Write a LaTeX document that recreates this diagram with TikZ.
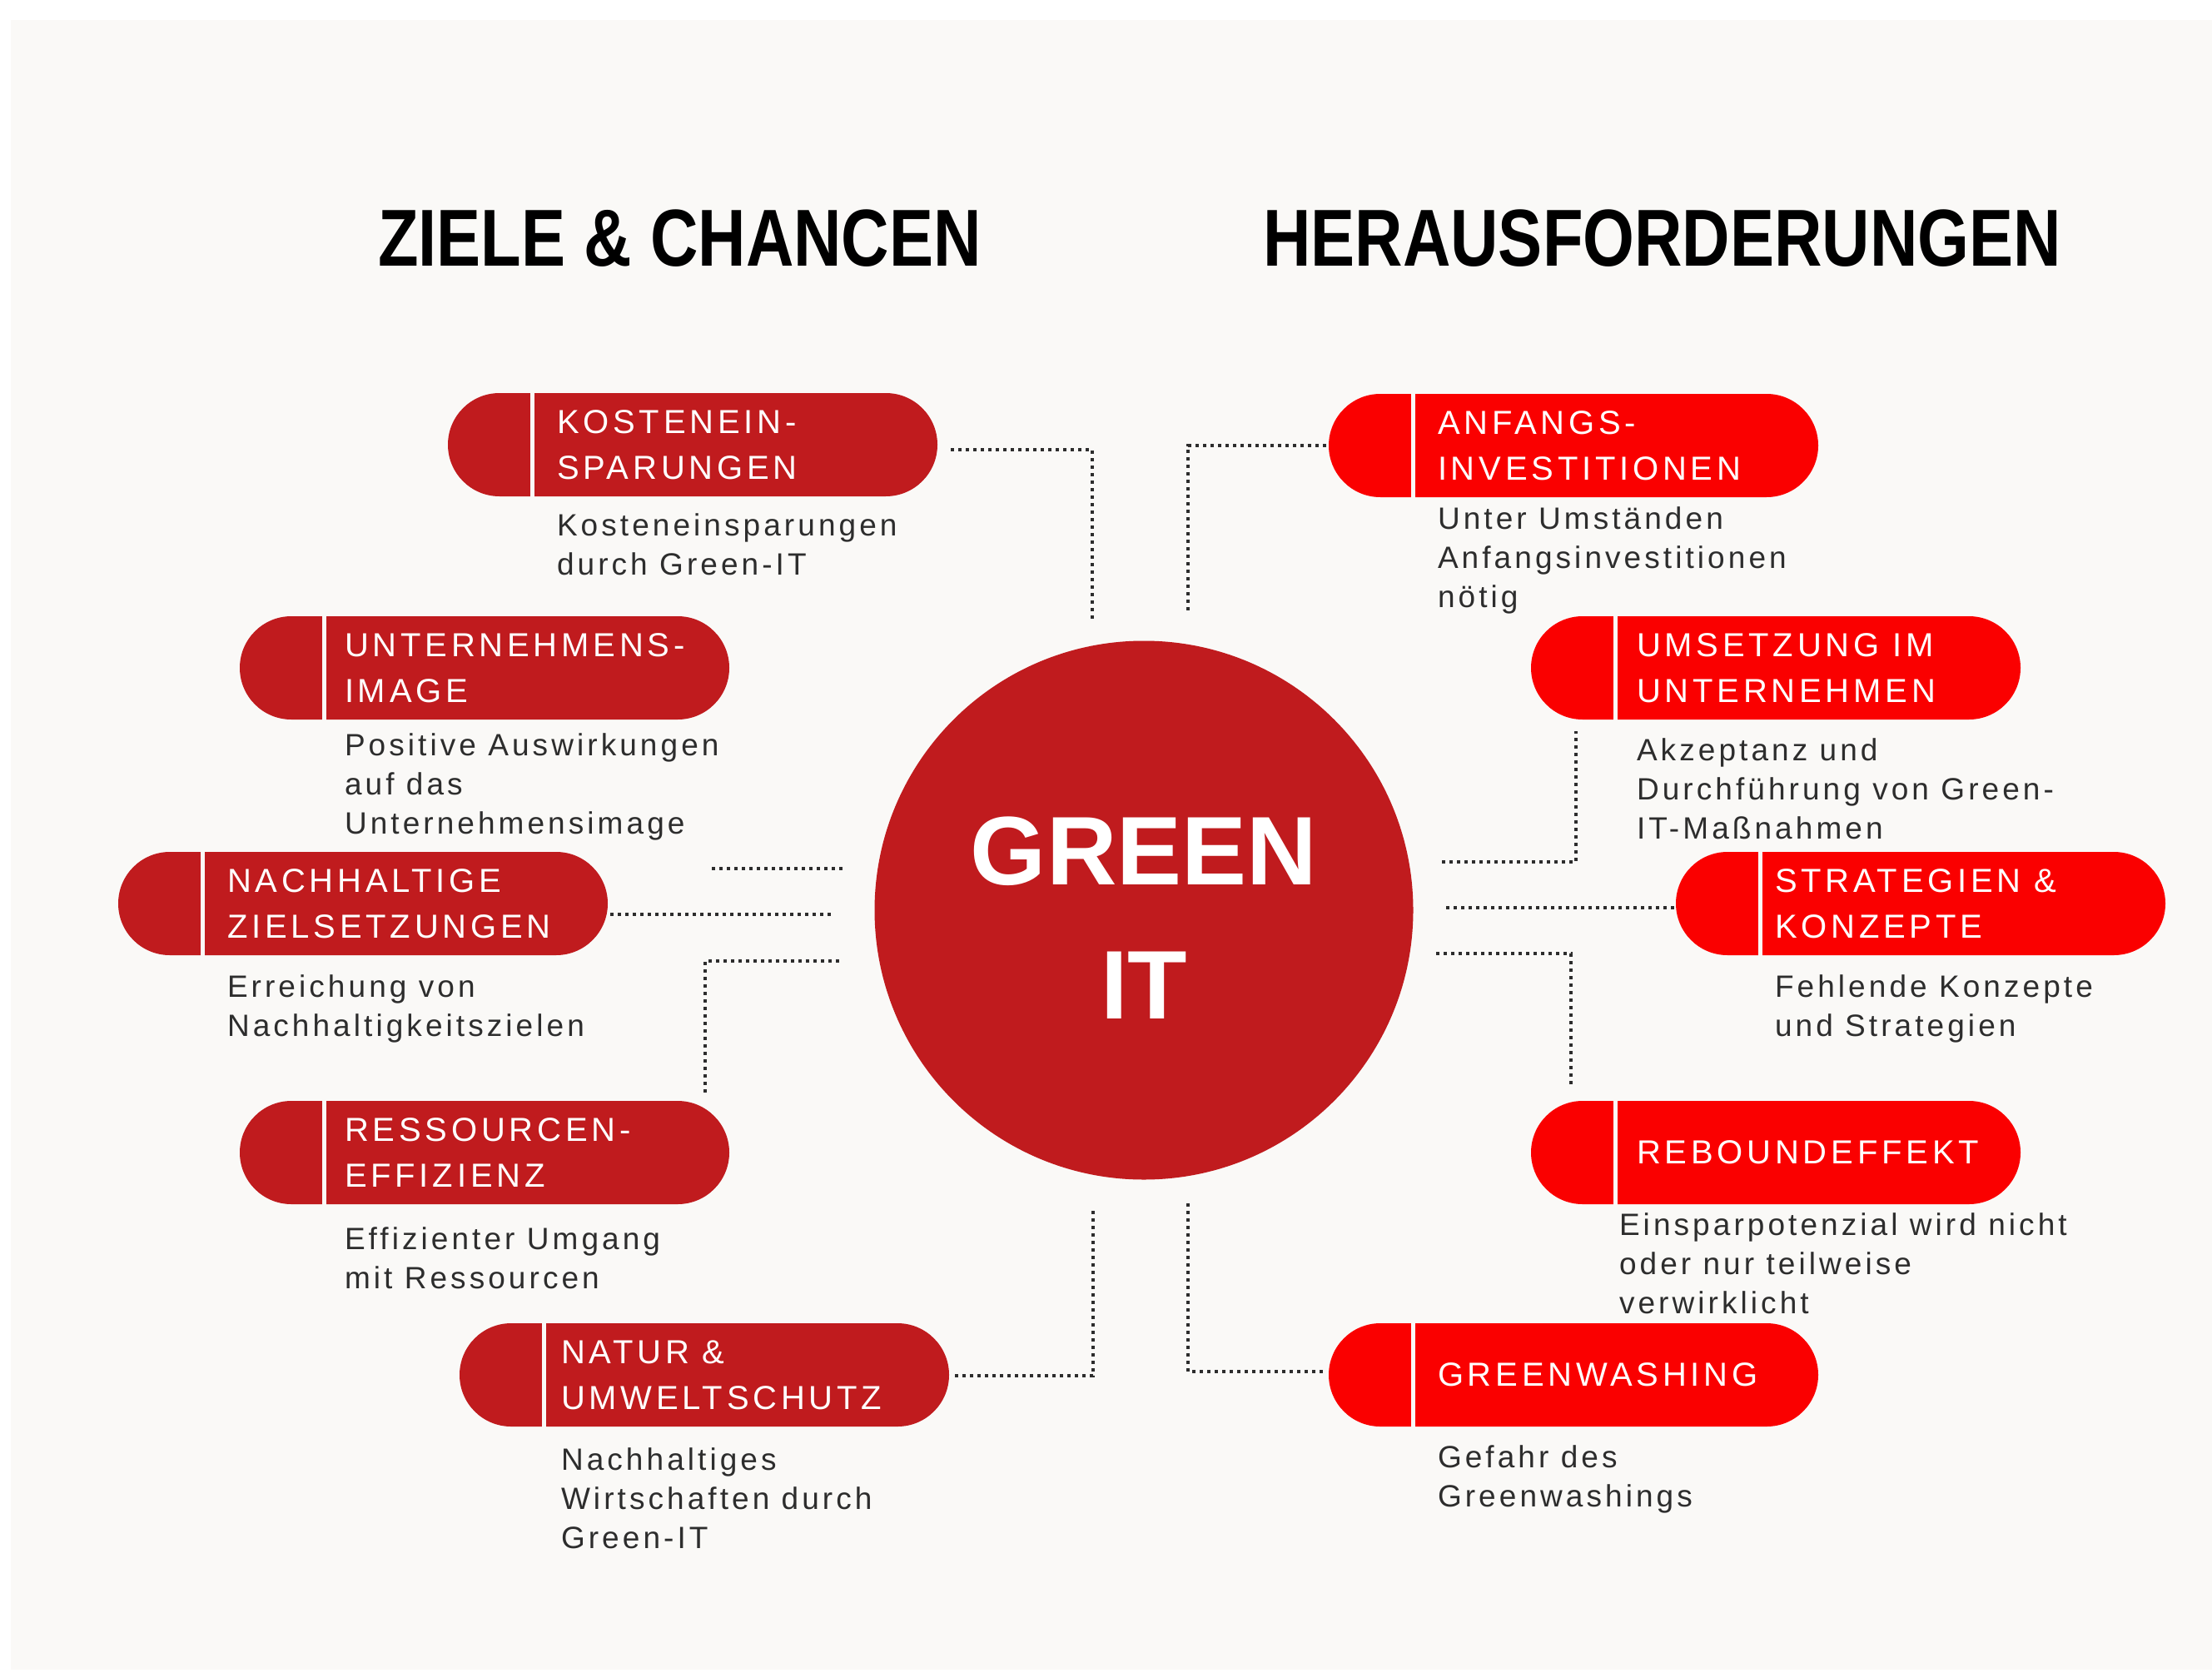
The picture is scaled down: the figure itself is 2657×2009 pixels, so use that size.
\documentclass[tikz,border=0pt]{standalone}
\usepackage{fontspec}
\setmainfont{Liberation Sans}
\newfontfamily\headfont[FakeStretch=0.82]{Liberation Sans}
\newfontfamily\pillfont[LetterSpace=12]{Liberation Sans}
\newfontfamily\descfont[LetterSpace=11]{Liberation Sans}
\usetikzlibrary{positioning}
\usetikzlibrary{calc}
\usetikzlibrary{shapes.misc}
\definecolor{bggrey}{RGB}{250,249,247}
\definecolor{darkred}{RGB}{192,27,30}
\definecolor{brightred}{RGB}{250,0,0}
\definecolor{ink}{RGB}{45,45,45}

\begin{document}
\begin{tikzpicture}[
    x=1pt, y=-1pt,
    % node styles
    pill/.style = {
      rounded rectangle,
      minimum width=588pt,
      minimum height=124pt,
      inner sep=0pt,
      draw=none
    },
    goal/.style = {pill, fill=darkred},
    risk/.style = {pill, fill=brightred},
    pilltext/.style = {
      anchor=west,
      align=left,
      inner sep=0pt,
      text=white,
      font=\pillfont\fontsize{40}{55}\selectfont
    },
    desc/.style = {
      anchor=north west,
      align=left,
      inner sep=0pt,
      text=ink,
      font=\descfont\fontsize{37}{47}\selectfont
    },
    head/.style = {
      anchor=base west,
      inner sep=0pt,
      text=black,
      font=\headfont\bfseries\fontsize{97}{110}\selectfont
    },
    hub/.style = {
      circle,
      minimum size=647pt,
      inner sep=0pt,
      fill=darkred
    },
    hubtext/.style = {
      align=center,
      inner sep=0pt,
      text=white,
      font=\bfseries\fontsize{117}{161}\selectfont
    },
    % line styles
    dots/.style = {draw=ink, line width=4pt, dash pattern=on 4pt off 5pt},
    sep/.style = {draw=bggrey, line width=5pt}
  ]

  % --- Background
  \useasboundingbox (0,0) rectangle (2657,2009);
  \fill[white] (0,0) rectangle (2657,2009);
  \fill[bggrey] (13,24) rectangle (2657,2005);

  % --- Headings
  \node[head] (goals) at (454,319) {ZIELE \& CHANCEN};
  \node[head] (risks) at (1517,319) {HERAUSFORDERUNGEN};

  % --- Centre
  \node[hub] (green) at (1374,1093) {};
  \node[hubtext] (greenT) at ($(green.center)+(0,9)$) {GREEN\\IT};

  % --- Left pills
  \node[goal] (kosten) at (832,534) {};
  \node[goal] (image) at (582,802) {};
  \node[goal] (ziele) at (436,1085) {};
  \node[goal] (ressourcen) at (582,1384) {};
  \node[goal] (natur) at (846,1651) {};

  % --- Right pills
  \node[risk] (anfang) at (1890,535) {};
  \node[risk] (umsetzung) at (2133,802) {};
  \node[risk] (strategie) at (2307,1085) {};
  \node[risk] (rebound) at (2133,1384) {};
  \node[risk] (greenwash) at (1890,1651) {};

  \foreach \p in {kosten,image,ziele,ressourcen,natur,anfang,umsetzung,strategie,rebound,greenwash}
    \draw[sep] ($(\p.west)+(102,-63)$) -- ++(0,126);

  % --- Pill titles
  \node[pilltext] (kostenT) at ($(kosten.west)+(131,0)$) {KOSTENEIN-\\SPARUNGEN};
  \node[pilltext] (imageT) at ($(image.west)+(126,0)$) {UNTERNEHMENS-\\IMAGE};
  \node[pilltext] (zieleT) at ($(ziele.west)+(131,0)$) {NACHHALTIGE\\ZIELSETZUNGEN};
  \node[pilltext] (ressourcenT) at ($(ressourcen.west)+(126,0)$) {RESSOURCEN-\\EFFIZIENZ};
  \node[pilltext] (naturT) at ($(natur.west)+(122,0)$) {NATUR \&\\UMWELTSCHUTZ};
  \node[pilltext] (anfangT) at ($(anfang.west)+(131,0)$) {ANFANGS-\\INVESTITIONEN};
  \node[pilltext] (umsetzungT) at ($(umsetzung.west)+(127,0)$) {UMSETZUNG IM\\UNTERNEHMEN};
  \node[pilltext] (strategieT) at ($(strategie.west)+(119,0)$) {STRATEGIEN \&\\KONZEPTE};
  \node[pilltext] (reboundT) at ($(rebound.west)+(127,0)$) {REBOUNDEFFEKT};
  \node[pilltext] (greenwashT) at ($(greenwash.west)+(131,0)$) {GREENWASHING};

  % --- Descriptions
  \node[desc] (kostenD) at ($(kosten.west)+(131,82)$) {Kosteneinsparungen\\durch Green-IT};
  \node[desc] (imageD) at ($(image.west)+(126,78)$) {Positive Auswirkungen\\auf das\\Unternehmensimage};
  \node[desc] (zieleD) at ($(ziele.west)+(131,85)$) {Erreichung von\\Nachhaltigkeitszielen};
  \node[desc] (ressourcenD) at ($(ressourcen.west)+(126,89)$) {Effizienter Umgang\\mit Ressourcen};
  \node[desc] (naturD) at ($(natur.west)+(122,87)$) {Nachhaltiges\\Wirtschaften durch\\Green-IT};
  \node[desc] (anfangD) at ($(anfang.west)+(131,73)$) {Unter Umständen\\Anfangsinvestitionen\\nötig};
  \node[desc] (umsetzungD) at ($(umsetzung.west)+(127,84)$) {Akzeptanz und\\Durchführung von Green-\\IT-Maßnahmen};
  \node[desc] (strategieD) at ($(strategie.west)+(119,85)$) {Fehlende Konzepte\\und Strategien};
  \node[desc] (reboundD) at ($(rebound.west)+(106,72)$) {Einsparpotenzial wird nicht\\oder nur teilweise\\verwirklicht};
  \node[desc] (greenwashD) at ($(greenwash.west)+(131,84)$) {Gefahr des\\Greenwashings};

  % --- Connector ends
  \coordinate (c1) at (1312,745);
  \coordinate (c2a) at (855,1043);
  \coordinate (c2b) at (1013,1043);
  \coordinate (c3) at (1003,1098);
  \coordinate (c4a) at (1008,1154);
  \coordinate (c4b) at (847,1312);
  \coordinate (c5) at (1313,1454);
  \coordinate (r1) at (1427,734);
  \coordinate (r2a) at (1732,1035);
  \coordinate (r2b) at (1893,878);
  \coordinate (r3) at (1737,1090);
  \coordinate (r4a) at (1725,1145);
  \coordinate (r4b) at (1887,1305);
  \coordinate (r5) at (1427,1445);

  % --- Connectors
  \draw[dots] ($(kosten.east)+(16,6)$) -| (c1);
  \draw[dots] (c2a) -- (c2b);
  \draw[dots] ($(ziele.east)+(3,13)$) -- (c3);
  \draw[dots] (c4a) -| (c4b);
  \draw[dots] ($(natur.east)+(7,1)$) -| (c5);
  \draw[dots] ($(anfang.west)+(-3,0)$) -| (r1);
  \draw[dots] (r2a) -| (r2b);
  \draw[dots] (r3) -- ($(strategie.west)+(0,5)$);
  \draw[dots] (r4a) -| (r4b);
  \draw[dots] (r5) |- ($(greenwash.west)+(-3,-4)$);

\end{tikzpicture}
\end{document}
